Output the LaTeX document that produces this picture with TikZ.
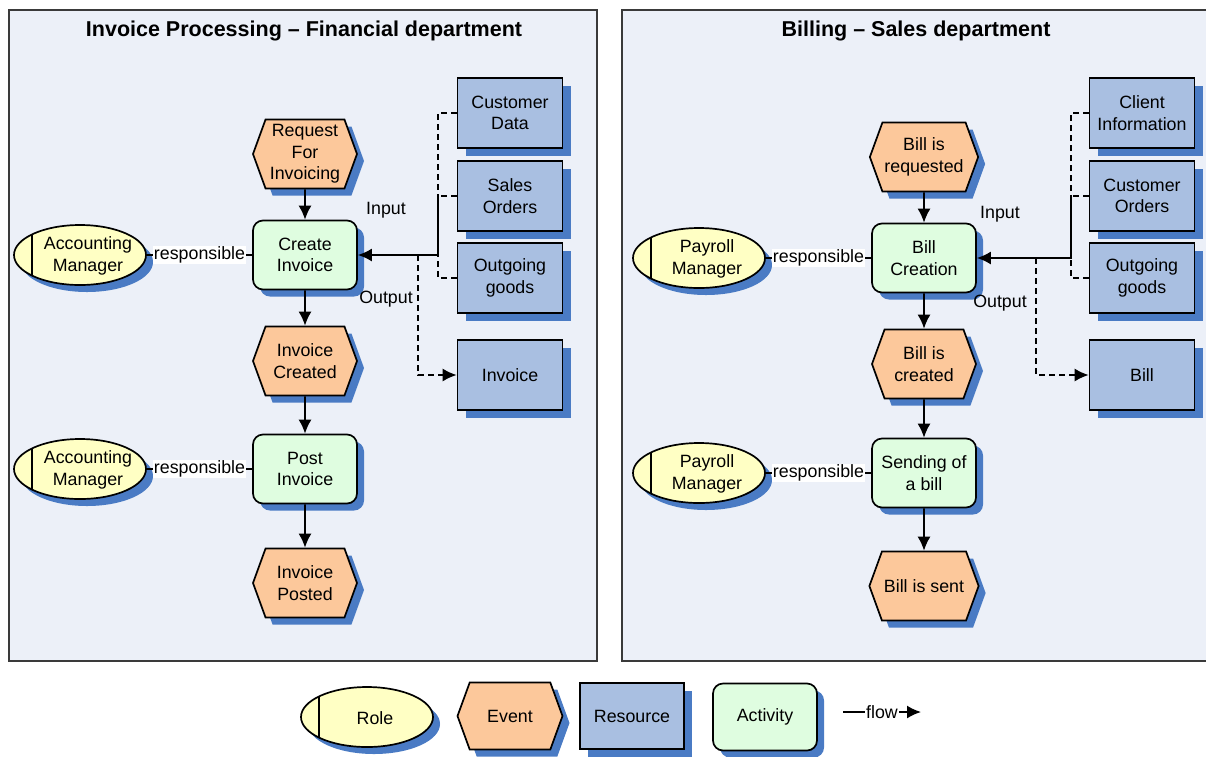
\documentclass[tikz,border=0pt]{standalone}
\usepackage{fontspec}
\setmainfont{Liberation Sans}
\usetikzlibrary{shapes.symbols,shapes.geometric,shadows,arrows.meta}

\definecolor{panelfill}{HTML}{ECF0F8}
\definecolor{paneledge}{HTML}{3A3A3A}
\definecolor{eventfill}{HTML}{FCC89B}
\definecolor{resfill}{HTML}{A9BFE1}
\definecolor{actfill}{HTML}{DFFDE0}
\definecolor{rolefill}{HTML}{FFFFC4}
\definecolor{shade}{HTML}{4A7BC4}

\begin{document}
\begin{tikzpicture}[x=1pt,y=-1pt,
  every node/.style={font=\fontsize{17.8pt}{21.5pt}\selectfont},
  shaped/.style={draw=black, line width=1.7pt, align=center, inner sep=2pt,
    drop shadow={shadow xshift=#1, shadow yshift=-#1, fill=shade, opacity=1}},
  event/.style={shaped=7pt, signal, signal to=west and east,
    signal pointer angle=140, fill=eventfill,
    minimum width=104pt, minimum height=69pt},
  activity/.style={shaped=7pt, rectangle, rounded corners=10pt, fill=actfill,
    minimum width=104pt, minimum height=69pt},
  resource/.style={shaped=8pt, rectangle, fill=resfill,
    minimum width=105pt, minimum height=70pt},
  role/.style={shaped=7pt, ellipse, fill=rolefill, inner sep=0pt,
    minimum width=132pt, minimum height=60pt,
    path picture={\draw[line width=1.7pt]
      ([xshift=18pt]path picture bounding box.north west) --
      ([xshift=18pt]path picture bounding box.south west);},
    label={[align=center, xshift=8pt, yshift=-1pt]center:{#1}}},
  panel/.style={fill=panelfill, draw=paneledge, line width=1.5pt},
  title/.style={font=\fontsize{21.5pt}{26pt}\selectfont\bfseries},
  link/.style={line width=1.7pt},
  flow/.style={link, -{Latex[length=14pt,width=13pt]}},
  dline/.style={link, dash pattern=on 6pt off 4pt},
  dflow/.style={dline, -{Latex[length=14pt,width=13pt]}},
  resp/.style={fill=white, inner sep=1pt},
  tag/.style={inner sep=0pt}
]
\path[use as bounding box] (0,0) rectangle (1206,756);
\clip (0,0) rectangle (1206,756);
\fill[white] (0,0) rectangle (1206,756);

% department panels
\draw[panel] (9,10) rectangle (597,661);
\draw[panel] (622,10) rectangle (1222,661);
\node[title] (tleft) at (304,31) {Invoice Processing -- Financial department};
\node[title] (tright) at (916,31) {Billing -- Sales department};

% ---------- financial department ----------
\node[event] (req) at (305,154) {Request\\For\\Invoicing};
\node[activity] (create) at (305,255) {Create\\Invoice};
\node[event] (created) at (305,361) {Invoice\\Created};
\node[activity] (post) at (305,469) {Post\\Invoice};
\node[event] (posted) at (305,583) {Invoice\\Posted};
\node[role={Accounting\\Manager}] (am1) at (80,255) {};
\node[role={Accounting\\Manager}] (am2) at (80,469) {};
\node[resource] (cd) at (510,113) {Customer\\Data};
\node[resource] (so) at (510,196) {Sales\\Orders};
\node[resource] (og1) at (510,278) {Outgoing\\goods};
\node[resource] (inv) at (510,375) {Invoice};

\coordinate (kL) at (438,196);
\coordinate (jL) at (438,255);
\coordinate (oL) at (418,255);

\draw[flow] (req) -- (create);
\draw[flow] (create) -- (created);
\draw[flow] (created) -- (post);
\draw[flow] (post) -- (posted);
\draw[link] (am1) -- node[resp] {responsible} (create);
\draw[link] (am2) -- node[resp] {responsible} (post);
\draw[dline] (cd.west) -| (kL);
\draw[dline] (so.west) -- (kL);
\draw[dline] (og1.west) -| (jL);
\draw[flow] (kL) -- (jL) -- (create.east);
\draw[dflow] (oL) |- (inv.west);
\node[tag] (inL) at (386,210) {Input};
\node[tag] (outL) at (386,299) {Output};

% ---------- sales department ----------
\node[event] (breq) at (924,157) {Bill is\\requested};
\node[activity] (bc) at (924,258) {Bill\\Creation};
\node[event] (bcr) at (924,364) {Bill is\\created};
\node[activity] (send) at (924,473) {Sending of\\a bill};
\node[event] (bsent) at (924,586) {Bill is sent};
\node[role={Payroll\\Manager}] (pm1) at (699,258) {};
\node[role={Payroll\\Manager}] (pm2) at (699,473) {};
\node[resource] (ci) at (1142,113) {Client\\Information};
\node[resource] (co) at (1142,196) {Customer\\Orders};
\node[resource] (og2) at (1142,278) {Outgoing\\goods};
\node[resource] (bill) at (1142,375) {Bill};

\coordinate (kR) at (1071,196);
\coordinate (jR) at (1071,258);
\coordinate (oR) at (1036,258);

\draw[flow] (breq) -- (bc);
\draw[flow] (bc) -- (bcr);
\draw[flow] (bcr) -- (send);
\draw[flow] (send) -- (bsent);
\draw[link] (pm1) -- node[resp] {responsible} (bc);
\draw[link] (pm2) -- node[resp] {responsible} (send);
\draw[dline] (ci.west) -| (kR);
\draw[dline] (co.west) -- (kR);
\draw[dline] (og2.west) -| (jR);
\draw[flow] (kR) -- (jR) -- (bc.east);
\draw[dflow] (oR) |- (bill.west);
\node[tag] (inR) at (1000,214) {Input};
\node[tag] (outR) at (1000,303) {Output};

% ---------- legend ----------
\node[role={Role}] (lrole) at (367,717) {};
\node[event, minimum width=105pt, minimum height=67pt] (levent) at (510,716) {Event};
\node[resource, minimum width=104pt, minimum height=66pt] (lres) at (632,716) {Resource};
\node[activity, minimum height=67pt] (lact) at (765,717) {Activity};
\coordinate (fa) at (843,712);
\coordinate (fb) at (921,712);
\draw[flow] (fa) -- node[resp] {flow} (fb);
\end{tikzpicture}
\end{document}
